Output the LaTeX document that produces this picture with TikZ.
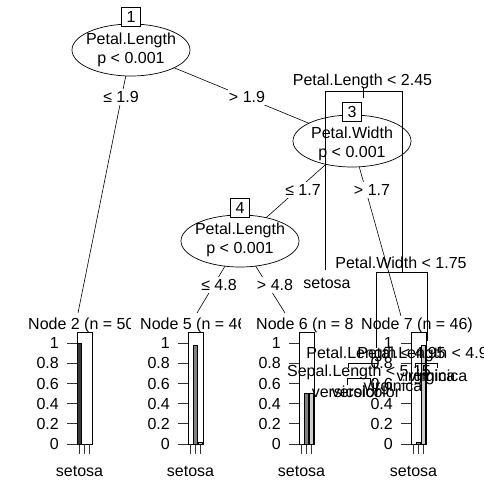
\documentclass[tikz,border=0pt]{standalone}
\usepackage{fontspec}
\setmainfont{Liberation Sans}
\usetikzlibrary{shapes.geometric}
\newcommand\fsz{\fontsize{16}{19}\selectfont}
\newcommand\termpanel[4]{%
  \begin{scope}
    \clip (0,300) rectangle (#4,336);
    \node[txt, anchor=base west] at (#3,329) {#2};
  \end{scope}
  \foreach \tv/\tl in {0/0,0.2/0.2,0.4/0.4,0.6/0.6,0.8/0.8,1/1} {
    \node[txt, anchor=base east] at (#1-18, 449.75-101*\tv) {\tl};
    \draw[tickln] (#1-10, 444-101*\tv) -- (#1, 444-101*\tv);
  }
  \draw[pbox] (#1,332) rectangle (#1+15,444);
  \foreach \i in {0,1,2} \draw[tickln] (#1+2.5+5*\i,444) -- (#1+2.5+5*\i,454);
  \node[txt] at (#1+2.5,476) {setosa};
}
\begin{document}
\begin{tikzpicture}[x=1pt,y=-1pt,
  txt/.style={inner sep=0pt, anchor=base, font=\fsz},
  ell/.style={ellipse, draw, fill=white, minimum width=118pt, minimum height=52pt, inner sep=0pt, line width=0.7pt},
  idbox/.style={draw, fill=white, minimum width=19pt, minimum height=19pt, inner sep=0pt, line width=0.7pt, font=\fsz},
  edgelab/.style={fill=white, inner xsep=1pt, inner ysep=2pt, anchor=base, font=\fsz},
  cedge/.style={line width=0.6pt},
  rline/.style={line width=0.8pt},
  tickln/.style={line width=0.7pt, black!80},
  pbox/.style={line width=0.7pt},
  bar/.style={draw, line width=0.5pt},
  cset/.style={fill=black!78},
  cvers/.style={fill=black!50},
  cvirg/.style={fill=black!20}
]
\useasboundingbox (0,0) rectangle (483,493);
\clip (0,0) rectangle (483,493);
\fill[white] (0,0) rectangle (483,493);

% ---- ctree edges
\coordinate (t2) at (78,313);
\coordinate (t5) at (197,313);
\coordinate (t6) at (285,313);
\coordinate (t7) at (401,316);
\coordinate (c1) at (131,50);
\coordinate (c3) at (352,141);
\coordinate (c4) at (240,241);
\draw[cedge] (c1) -- (t2);
\draw[cedge] (c1) -- (c3);
\draw[cedge] (c3) -- (c4);
\draw[cedge] (c3) -- (t7);
\draw[cedge] (c4) -- (t5);
\draw[cedge] (c4) -- (t6);

% ---- inner nodes
\node[ell] (n1) at (c1) {};
\node[ell] (n3) at (c3) {};
\node[ell] (n4) at (c4) {};
\node[idbox] (b1) at (131,17) {1};
\node[idbox] (b3) at (352,112) {3};
\node[idbox] (b4) at (240,208) {4};
\node[txt] (n1a) at (131,44.5) {Petal.Length};
\node[txt] (n1b) at (131,63.5) {p < 0.001};
\node[txt] (n3a) at (352,138.5) {Petal.Width};
\node[txt] (n3b) at (352,157.5) {p < 0.001};
\node[txt] (n4a) at (240,234.5) {Petal.Length};
\node[txt] (n4b) at (240,253.5) {p < 0.001};

% ---- edge labels
\node[edgelab] (l12) at (121,102.5) {≤ 1.9};
\node[edgelab] (l13) at (247,102.5) {> 1.9};
\node[edgelab] (l34) at (303,195.5) {≤ 1.7};
\node[edgelab] (l37) at (372,195.5) {> 1.7};
\node[edgelab] (l45) at (219,290.5) {≤ 4.8};
\node[edgelab] (l46) at (275,290.5) {> 4.8};

% ---- terminal panels
\termpanel{77}{Node 2 (n = 50)}{28}{130}
\termpanel{188}{Node 5 (n = 46)}{140}{240}
\termpanel{299}{Node 6 (n = 8)}{256}{353}
\termpanel{411}{Node 7 (n = 46)}{361}{483}
% bars
\draw[bar,cset] (77.5,444) rectangle (81.5,343);
\draw[bar,cvers] (193.5,444) rectangle (197.5,345.2);
\draw[bar,cvirg] (198.5,444) rectangle (202.5,441.8);
\draw[bar,cvers] (304.5,444) rectangle (308.5,393.5);
\draw[bar,cvirg] (309.5,444) rectangle (313.5,393.5);
\draw[bar,cvers] (416.5,444) rectangle (420.5,441.8);
\draw[bar,cvirg] (421.5,444) rectangle (425.5,345.2);

% ---- rpart overlay
\node[txt] (r1) at (362.5,85) {Petal.Length < 2.45};
\coordinate (r1p) at (363,91);
\draw[rline] (325,270) -- (325,91) -- (402,91) -- (402,273);
\draw[rline] (363,87) -- (363,98);
\node[txt] (r2) at (327,288) {setosa};
\node[txt] (r3) at (401,268) {Petal.Width < 1.75};
\draw[rline] (376,348) -- (376,272) -- (427,272) -- (427,341);
\node[txt] (r6) at (376,358) {Petal.Length < 4.95};
\node[txt] (r7) at (427,358) {Petal.Length < 4.95};
\draw[rline] (348,368) -- (348,363) -- (377,363) -- (377,368);
\draw[rline] (415,368) -- (415,363) -- (437,363) -- (437,368);
\draw[rline] (347,385) -- (347,378) -- (370,378) -- (370,383);
\node[txt] (r12) at (359,376) {Sepal.Length < 5.15};
\node[txt] (r13a) at (426,381) {virginica};
\node[txt] (r13b) at (438,381) {virginica};
\node[txt] (r24) at (393,391) {virginica};
\node[txt] (r25a) at (346,397) {versicolor};
\node[txt] (r25b) at (366,397) {versicolor};
\end{tikzpicture}
\end{document}
